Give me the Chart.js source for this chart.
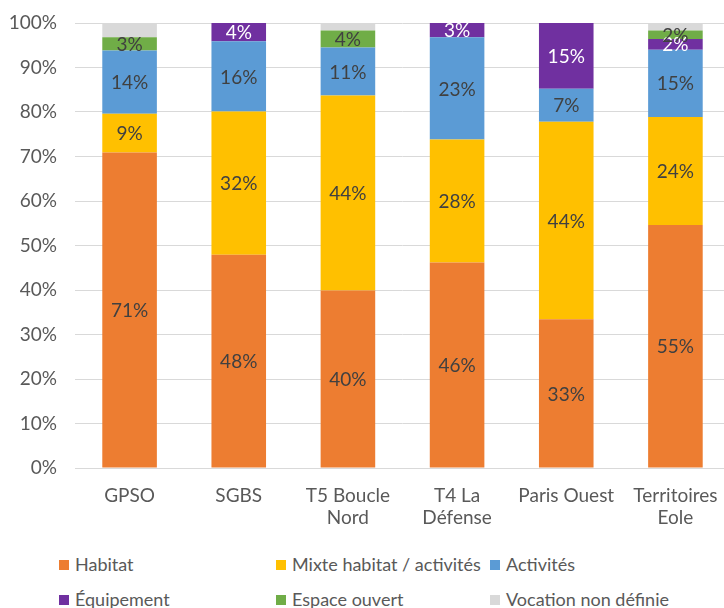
<!DOCTYPE html>
<html>
<head>
<meta charset="utf-8">
<script src="https://cdn.jsdelivr.net/npm/chart.js@4"></script>
<style>
  html, body { margin: 0; padding: 0; background: #fff; overflow: hidden; }
  #wrap { position: relative; width: 724px; height: 608px; overflow: hidden; }
  #chart { position: absolute; left: 0; top: 0; }
  .lg { position: absolute; font-family: "Liberation Sans Narrow", "Lato", sans-serif; font-size: 18px; color: #595959; line-height: 20px; white-space: nowrap; }
  .lg span { display: inline-block; width: 10px; height: 10px; margin-right: 6px; vertical-align: 1px; }
</style>
</head>
<body>
<div id="wrap">
  <canvas id="chart" width="740" height="540"></canvas>
  <div id="legend"></div>
</div>
<script>
const categories = ['GPSO', 'SGBS', ['T5 Boucle', 'Nord'], ['T4 La', 'Défense'], 'Paris Ouest', ['Territoires', 'Eole']];
const seriesNames = ['Habitat', 'Mixte habitat / activités', 'Activités', 'Équipement', 'Espace ouvert', 'Vocation non définie'];
const seriesColors = ['#ED7D31', '#FFC000', '#5B9BD5', '#7030A0', '#70AD47', '#D9D9D9'];

const habitat      = [70.9, 47.9, 39.9, 46.2, 33.4, 54.6];
const mixte        = [8.7, 32.2, 43.8, 27.6, 44.4, 24.3];
const activites    = [14.2, 15.8, 10.8, 23.0, 7.4, 15.1];
const equipement   = [0, 4.1, 0, 3.2, 14.8, 2.4];
const espaceOuvert = [3.0, 0, 3.8, 0, 0, 1.9];
const nonDefinie   = [3.2, 0, 1.7, 0, 0, 1.7];

const yTicks = [0, 10, 20, 30, 40, 50, 60, 70, 80, 90, 100];

const FONT = '"Liberation Sans Narrow", "Lato", sans-serif';
const allSeries = [habitat, mixte, activites, equipement, espaceOuvert, nonDefinie];

// labels inside the segments (no label on the grey one)
const barLabels = {
  id: 'barLabels',
  afterDatasetsDraw(chart) {
    const ctx = chart.ctx;
    ctx.save();
    ctx.font = '19px ' + FONT;
    ctx.textAlign = 'center';
    ctx.textBaseline = 'middle';
    chart.data.datasets.forEach((ds, i) => {
      if (i === 5) return;
      chart.getDatasetMeta(i).data.forEach((bar, j) => {
        const v = ds.data[j];
        if (!v) return;
        ctx.fillStyle = i === 3 ? '#ffffff' : '#404040';
        ctx.fillText(Math.round(v) + '%', bar.x, (bar.y + bar.base) / 2 + 1);
      });
    });
    ctx.restore();
  }
};

new Chart(document.getElementById('chart'), {
  type: 'bar',
  data: {
    labels: categories,
    datasets: allSeries.map((d, i) => ({
      label: seriesNames[i],
      data: d,
      backgroundColor: seriesColors[i],
      borderWidth: 0,
      barPercentage: 0.5,
      categoryPercentage: 1
    }))
  },
  options: {
    responsive: false,
    animation: false,
    layout: { padding: { top: 23, right: 10, left: 0, bottom: 0 } },
    plugins: { legend: { display: false }, tooltip: { enabled: false } },
    scales: {
      x: {
        stacked: true,
        grid: { display: false, drawTicks: false },
        border: { display: true, color: '#D9D9D9', width: 1 },
        ticks: { color: '#595959', font: { family: FONT, size: 19 }, padding: 16, maxRotation: 0, autoSkip: false },
        afterFit(scale) { scale.height = 72; scale.paddingLeft = 0; scale.paddingRight = 0; }
      },
      y: {
        stacked: true,
        min: 0,
        max: 100,
        afterBuildTicks(scale) { scale.ticks = yTicks.map(v => ({ value: v })); },
        grid: { color: '#D9D9D9', lineWidth: 1, drawTicks: false },
        border: { display: false },
        ticks: { color: '#595959', font: { family: FONT, size: 19 }, padding: 18, callback: v => v + '%' },
        afterFit(scale) { scale.width = 75; scale.paddingTop = 0; scale.paddingBottom = 0; }
      }
    }
  },
  plugins: [barLabels]
});

// legend in three columns like the original
const legendCols = [59, 276, 490];
const legendRows = [554, 589];
const lg = document.getElementById('legend');
seriesNames.forEach((name, i) => {
  const d = document.createElement('div');
  d.className = 'lg';
  d.style.left = legendCols[i % 3] + 'px';
  d.style.top = legendRows[Math.floor(i / 3)] + 'px';
  d.innerHTML = '<span style="background:' + seriesColors[i] + '"></span>' + name;
  lg.appendChild(d);
});
</script>
</body>
</html>
